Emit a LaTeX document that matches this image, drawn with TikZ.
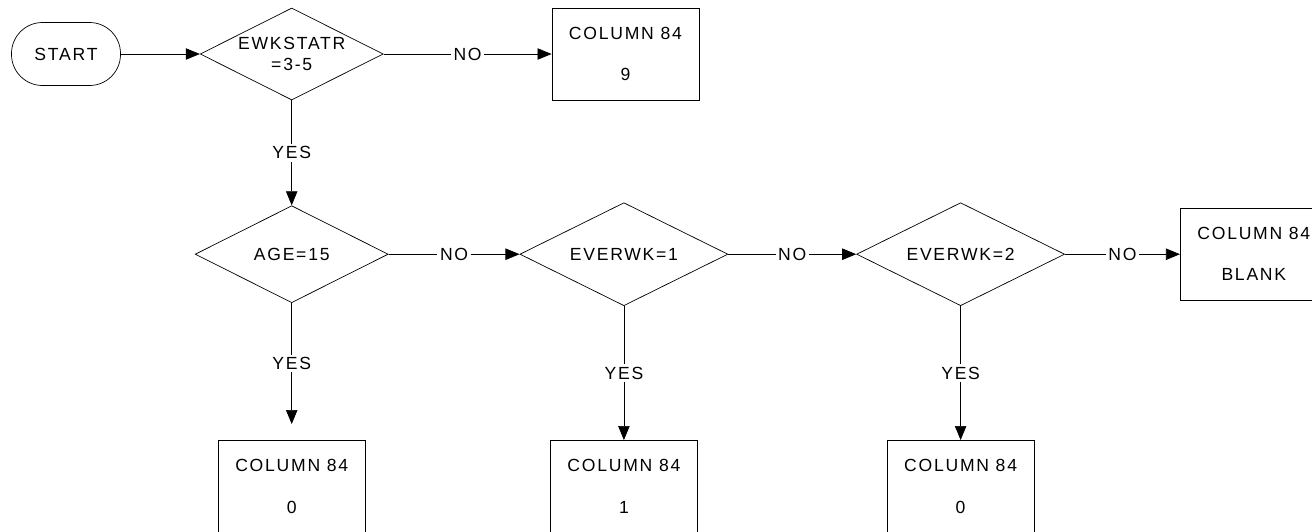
\documentclass[tikz,border=0pt]{standalone}
\usepackage{fontspec}
\setmainfont[LetterSpace=10]{Liberation Sans}
\usepackage{tikz}
\usetikzlibrary{positioning, shapes.geometric, arrows.meta}

\begin{document}
\begin{tikzpicture}[font=\fontsize{10}{11.5}\selectfont]
    % Define styles
    \tikzstyle{terminal} = [rectangle, rounded corners=0.62cm, minimum width=2.18cm, minimum height=1.26cm, align=center, draw=black, thin]
    \tikzstyle{decision} = [diamond, aspect=2, minimum width=4.16cm, minimum height=2.06cm, inner sep=0pt, align=center, draw=black, thin]
    \tikzstyle{outcome} = [rectangle, minimum width=2.94cm, minimum height=1.84cm, align=center, draw=black, thin]
    \tikzstyle{arrow} = [thin, -{Triangle[length=8pt, width=6.5pt]}]
    \tikzstyle{answer} = [fill=white, inner sep=1.5pt]

    % Frame
    \clip (0,0) rectangle (26.24,-10.62);

    % Nodes
    \node (start) [terminal] at (1.32,-1.08) {START};
    \node (ewk) [decision, right=1.58cm of start, minimum width=3.66cm, minimum height=1.84cm] {EWKSTATR\\=3-5};
    \node (col9) [outcome, right=3.36cm of ewk] {COLUMN 84\\[12pt]9};
    \node (age) [decision, below=2.1cm of ewk, minimum width=3.86cm, minimum height=1.94cm] {AGE=15};
    \node (ever1) [decision, right=2.62cm of age] {EVERWK=1};
    \node (ever2) [decision, right=2.56cm of ever1] {EVERWK=2};
    \node (blank) [outcome, right=2.3cm of ever2] {COLUMN 84\\[12pt]BLANK};
    \node (col0a) [outcome, below=2.74cm of age] {COLUMN 84\\[12pt]0};
    \node (col1) [outcome, below=2.68cm of ever1] {COLUMN 84\\[12pt]1};
    \node (col0b) [outcome, below=2.68cm of ever2] {COLUMN 84\\[12pt]0};

    % Arrows
    \draw [arrow] (start) -- (ewk);
    \draw [arrow] (ewk) -- node[answer] {NO} (col9);
    \draw [arrow] (ewk) -- node[answer] {YES} (age);
    \draw [arrow] (age) -- node[answer] {NO} (ever1);
    \draw [arrow, shorten >=0.32cm] (age) -- node[answer, yshift=0.16cm] {YES} (col0a);
    \draw [arrow] (ever1) -- node[answer] {NO} (ever2);
    \draw [arrow] (ever1) -- node[answer] {YES} (col1);
    \draw [arrow] (ever2) -- node[answer] {NO} (blank);
    \draw [arrow] (ever2) -- node[answer] {YES} (col0b);
\end{tikzpicture}
\end{document}
